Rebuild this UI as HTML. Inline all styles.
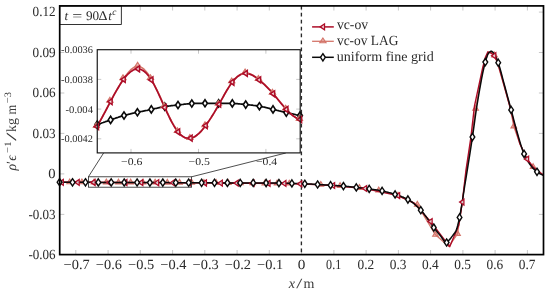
<!DOCTYPE html>
<html lang="en"><head><meta charset="utf-8"><title>plot</title>
<style>html,body{margin:0;padding:0;background:#fff}body{width:550px;height:295px;overflow:hidden}</style></head>
<body>
<svg width="550" height="295" viewBox="0 0 550 295" style="display:block">
<rect width="550" height="295" fill="#fff"/>
<g font-family="'Liberation Serif','DejaVu Serif',serif" fill="#2b2b2b" text-rendering="geometricPrecision">
<path d="M75.8,254.6 v-4.6 M75.8,5.9 v4.6 M108.1,254.6 v-4.6 M108.1,5.9 v4.6 M140.3,254.6 v-4.6 M140.3,5.9 v4.6 M172.6,254.6 v-4.6 M172.6,5.9 v4.6 M204.8,254.6 v-4.6 M204.8,5.9 v4.6 M237.1,254.6 v-4.6 M237.1,5.9 v4.6 M269.3,254.6 v-4.6 M269.3,5.9 v4.6 M301.6,254.6 v-4.6 M301.6,5.9 v4.6 M333.9,254.6 v-4.6 M333.9,5.9 v4.6 M366.1,254.6 v-4.6 M366.1,5.9 v4.6 M398.4,254.6 v-4.6 M398.4,5.9 v4.6 M430.6,254.6 v-4.6 M430.6,5.9 v4.6 M462.9,254.6 v-4.6 M462.9,5.9 v4.6 M495.1,254.6 v-4.6 M495.1,5.9 v4.6 M527.4,254.6 v-4.6 M527.4,5.9 v4.6 M59.7,12.1 h4.6 M543.5,12.1 h-4.6 M59.7,52.5 h4.6 M543.5,52.5 h-4.6 M59.7,93.0 h4.6 M543.5,93.0 h-4.6 M59.7,133.4 h4.6 M543.5,133.4 h-4.6 M59.7,173.9 h4.6 M543.5,173.9 h-4.6 M59.7,214.4 h4.6 M543.5,214.4 h-4.6" stroke="#b0b0b0" stroke-width="0.7" fill="none"/>
<path d="M301.4,5.9 V254.6" stroke="#2a2a2a" stroke-width="1.35" stroke-dasharray="3.7 3.23" fill="none"/>
<path d="M59.7,182.2 L200.0,182.8 L301.5,183.7 L320.8,184.8 L340.1,186.0 L359.4,187.9 L378.7,190.4 L398.0,195.7 L417.3,204.7 L435.5,234.8 L448.8,246.4 L457.5,233.9 L462.0,204.0 L466.5,170.0 L471.5,138.0 L475.6,108.8 L483.5,66.0 L488.5,52.3 L491.5,52.6 L494.5,55.5 L497.5,63.0 L503.5,84.0 L510.3,108.0 L513.8,126.5 L520.0,144.0 L527.0,159.0 L533.1,167.0 L543.5,175.2" stroke="#d4756a" stroke-width="1.3" fill="none" stroke-linejoin="round"/>
<path d="M289.3,180.3 L292.1,185.0 L286.5,185.0Z" fill="#d4756a" fill-opacity="0.45" stroke="#d4756a" stroke-width="1.15"/>
<path d="M277.1,180.2 L279.9,184.9 L274.3,184.9Z" fill="#d4756a" fill-opacity="0.45" stroke="#d4756a" stroke-width="1.15"/>
<path d="M264.9,180.1 L267.7,184.8 L262.1,184.8Z" fill="#d4756a" fill-opacity="0.45" stroke="#d4756a" stroke-width="1.15"/>
<path d="M252.7,180.0 L255.5,184.7 L249.9,184.7Z" fill="#d4756a" fill-opacity="0.45" stroke="#d4756a" stroke-width="1.15"/>
<path d="M240.5,179.9 L243.3,184.6 L237.7,184.6Z" fill="#d4756a" fill-opacity="0.45" stroke="#d4756a" stroke-width="1.15"/>
<path d="M228.3,179.7 L231.1,184.4 L225.5,184.4Z" fill="#d4756a" fill-opacity="0.45" stroke="#d4756a" stroke-width="1.15"/>
<path d="M216.1,179.6 L218.9,184.3 L213.3,184.3Z" fill="#d4756a" fill-opacity="0.45" stroke="#d4756a" stroke-width="1.15"/>
<path d="M203.9,179.5 L206.7,184.2 L201.1,184.2Z" fill="#d4756a" fill-opacity="0.45" stroke="#d4756a" stroke-width="1.15"/>
<path d="M191.7,179.5 L194.5,184.2 L188.9,184.2Z" fill="#d4756a" fill-opacity="0.45" stroke="#d4756a" stroke-width="1.15"/>
<path d="M179.5,179.4 L182.3,184.1 L176.7,184.1Z" fill="#d4756a" fill-opacity="0.45" stroke="#d4756a" stroke-width="1.15"/>
<path d="M167.3,179.4 L170.1,184.1 L164.5,184.1Z" fill="#d4756a" fill-opacity="0.45" stroke="#d4756a" stroke-width="1.15"/>
<path d="M155.1,179.3 L157.9,184.0 L152.3,184.0Z" fill="#d4756a" fill-opacity="0.45" stroke="#d4756a" stroke-width="1.15"/>
<path d="M142.9,179.3 L145.7,184.0 L140.1,184.0Z" fill="#d4756a" fill-opacity="0.45" stroke="#d4756a" stroke-width="1.15"/>
<path d="M130.7,179.2 L133.5,183.9 L127.9,183.9Z" fill="#d4756a" fill-opacity="0.45" stroke="#d4756a" stroke-width="1.15"/>
<path d="M118.5,179.2 L121.3,183.9 L115.7,183.9Z" fill="#d4756a" fill-opacity="0.45" stroke="#d4756a" stroke-width="1.15"/>
<path d="M106.3,179.1 L109.1,183.8 L103.5,183.8Z" fill="#d4756a" fill-opacity="0.45" stroke="#d4756a" stroke-width="1.15"/>
<path d="M94.1,179.1 L96.9,183.8 L91.3,183.8Z" fill="#d4756a" fill-opacity="0.45" stroke="#d4756a" stroke-width="1.15"/>
<path d="M81.9,179.0 L84.7,183.7 L79.1,183.7Z" fill="#d4756a" fill-opacity="0.45" stroke="#d4756a" stroke-width="1.15"/>
<path d="M69.7,179.0 L72.5,183.7 L66.9,183.7Z" fill="#d4756a" fill-opacity="0.45" stroke="#d4756a" stroke-width="1.15"/>
<path d="M320.8,181.5 L323.6,186.2 L318.0,186.2Z" fill="#d4756a" fill-opacity="0.45" stroke="#d4756a" stroke-width="1.15"/>
<path d="M340.1,182.7 L342.9,187.4 L337.3,187.4Z" fill="#d4756a" fill-opacity="0.45" stroke="#d4756a" stroke-width="1.15"/>
<path d="M359.4,184.6 L362.2,189.3 L356.6,189.3Z" fill="#d4756a" fill-opacity="0.45" stroke="#d4756a" stroke-width="1.15"/>
<path d="M378.7,187.1 L381.5,191.8 L375.9,191.8Z" fill="#d4756a" fill-opacity="0.45" stroke="#d4756a" stroke-width="1.15"/>
<path d="M398.0,192.4 L400.8,197.1 L395.2,197.1Z" fill="#d4756a" fill-opacity="0.45" stroke="#d4756a" stroke-width="1.15"/>
<path d="M417.3,201.4 L420.1,206.1 L414.5,206.1Z" fill="#d4756a" fill-opacity="0.45" stroke="#d4756a" stroke-width="1.15"/>
<path d="M435.5,231.5 L438.3,236.2 L432.7,236.2Z" fill="#d4756a" fill-opacity="0.45" stroke="#d4756a" stroke-width="1.15"/>
<path d="M457.5,230.6 L460.3,235.3 L454.7,235.3Z" fill="#d4756a" fill-opacity="0.45" stroke="#d4756a" stroke-width="1.15"/>
<path d="M475.6,105.5 L478.4,110.2 L472.8,110.2Z" fill="#d4756a" fill-opacity="0.45" stroke="#d4756a" stroke-width="1.15"/>
<path d="M494.5,52.2 L497.3,56.9 L491.7,56.9Z" fill="#d4756a" fill-opacity="0.45" stroke="#d4756a" stroke-width="1.15"/>
<path d="M513.8,123.2 L516.6,127.9 L511.0,127.9Z" fill="#d4756a" fill-opacity="0.45" stroke="#d4756a" stroke-width="1.15"/>
<path d="M533.1,163.7 L535.9,168.4 L530.3,168.4Z" fill="#d4756a" fill-opacity="0.45" stroke="#d4756a" stroke-width="1.15"/>
<path d="M59.7,182.3 L200.0,182.9 L285.5,183.5 L300.2,183.9 L333.0,185.5 L365.0,188.5 L398.0,195.6 L414.0,203.0 L430.5,221.5 L449.7,246.7 L458.9,224.7 L462.3,202.1 L466.0,170.0 L470.8,138.0 L474.5,105.8 L482.6,68.2 L485.5,57.0 L487.9,51.8 L491.0,53.0 L494.2,55.8 L497.6,62.0 L503.8,84.0 L510.3,108.0 L513.8,122.0 L520.0,144.0 L527.0,159.0 L533.0,167.0 L543.5,175.2" stroke="#ad0d28" stroke-width="1.4" fill="none" stroke-linejoin="round"/>
<path d="M59.7,182.2 L60.7,182.2 L61.7,182.2 L62.7,182.2 L63.7,182.2 L64.7,182.2 L65.7,182.2 L66.7,182.2 L67.7,182.2 L68.7,182.2 L69.7,182.2 L70.7,182.2 L71.7,182.2 L72.7,182.3 L73.7,182.3 L74.7,182.3 L75.7,182.3 L76.7,182.3 L77.7,182.3 L78.7,182.3 L79.7,182.3 L80.7,182.3 L81.7,182.3 L82.7,182.3 L83.7,182.3 L84.7,182.3 L85.7,182.3 L86.7,182.3 L87.7,182.3 L88.7,182.3 L89.7,182.3 L90.7,182.3 L91.7,182.3 L92.7,182.3 L93.7,182.3 L94.7,182.3 L95.7,182.3 L96.7,182.4 L97.7,182.4 L98.7,182.4 L99.7,182.4 L100.7,182.4 L101.7,182.4 L102.7,182.4 L103.7,182.4 L104.7,182.4 L105.7,182.4 L106.7,182.4 L107.7,182.4 L108.7,182.4 L109.7,182.4 L110.7,182.4 L111.7,182.4 L112.7,182.4 L113.7,182.4 L114.7,182.4 L115.7,182.4 L116.7,182.4 L117.7,182.4 L118.7,182.4 L119.7,182.4 L120.0,182.4 L120.7,182.5 L121.7,182.5 L122.7,182.5 L123.7,182.5 L124.7,182.5 L125.7,182.5 L126.7,182.5 L127.7,182.5 L128.7,182.5 L129.7,182.5 L130.7,182.5 L131.7,182.5 L132.7,182.5 L133.7,182.5 L134.7,182.5 L135.7,182.5 L136.7,182.5 L137.7,182.5 L138.7,182.5 L139.7,182.5 L140.7,182.5 L141.7,182.5 L142.7,182.5 L143.7,182.5 L144.7,182.5 L145.7,182.6 L146.7,182.6 L147.7,182.6 L148.7,182.6 L149.7,182.6 L150.7,182.6 L151.7,182.6 L152.7,182.6 L153.7,182.6 L154.7,182.6 L155.7,182.6 L156.7,182.6 L157.7,182.6 L158.7,182.6 L159.7,182.6 L160.7,182.6 L161.7,182.6 L162.7,182.6 L163.7,182.6 L164.7,182.6 L165.7,182.6 L166.7,182.6 L167.7,182.6 L168.7,182.6 L169.7,182.7 L170.7,182.7 L171.7,182.7 L172.7,182.7 L173.7,182.7 L174.7,182.7 L175.7,182.7 L176.7,182.7 L177.7,182.7 L178.7,182.7 L179.7,182.7 L180.7,182.7 L181.7,182.7 L182.7,182.7 L183.7,182.7 L184.7,182.7 L185.7,182.7 L186.7,182.7 L187.7,182.7 L188.7,182.7 L189.7,182.7 L190.7,182.7 L191.7,182.7 L192.7,182.7 L193.7,182.8 L194.7,182.8 L195.7,182.8 L196.7,182.8 L197.7,182.8 L198.7,182.8 L199.7,182.8 L200.0,182.8 L200.7,182.8 L201.7,182.8 L202.7,182.8 L203.7,182.8 L204.7,182.8 L205.7,182.8 L206.7,182.8 L207.7,182.8 L208.7,182.8 L209.7,182.8 L210.7,182.8 L211.7,182.8 L212.7,182.8 L213.7,182.8 L214.7,182.8 L215.7,182.8 L216.7,182.8 L217.7,182.8 L218.7,182.8 L219.7,182.8 L220.7,182.8 L221.7,182.8 L222.7,182.9 L223.7,182.9 L224.7,182.9 L225.7,182.9 L226.7,182.9 L227.7,182.9 L228.7,182.9 L229.7,182.9 L230.7,182.9 L231.7,182.9 L232.7,182.9 L233.7,182.9 L234.7,182.9 L235.7,182.9 L236.7,182.9 L237.7,182.9 L238.7,182.9 L239.7,182.9 L240.7,182.9 L241.7,182.9 L242.7,182.9 L243.7,182.9 L244.7,182.9 L245.7,182.9 L246.7,182.9 L247.7,182.9 L248.7,182.9 L249.7,182.9 L250.7,182.9 L251.7,182.9 L252.7,182.9 L253.7,182.9 L254.7,183.0 L255.7,183.0 L256.7,183.0 L257.7,183.0 L258.7,183.0 L259.7,183.0 L260.7,183.0 L261.7,183.0 L262.7,183.0 L263.7,183.0 L264.7,183.0 L265.7,183.0 L266.7,183.0 L267.7,183.0 L268.7,183.0 L269.7,183.0 L270.7,183.0 L271.7,183.0 L272.7,183.1 L273.7,183.1 L274.7,183.1 L275.7,183.1 L276.7,183.1 L277.7,183.1 L278.5,183.1 L278.7,183.1 L279.7,183.1 L280.7,183.1 L281.7,183.1 L282.7,183.2 L283.7,183.2 L284.7,183.2 L285.7,183.2 L286.7,183.3 L287.7,183.3 L288.7,183.3 L289.7,183.4 L290.7,183.4 L291.5,183.4 L291.7,183.4 L292.7,183.4 L293.7,183.5 L294.7,183.5 L295.7,183.5 L296.7,183.5 L297.7,183.5 L298.7,183.6 L299.7,183.6 L300.7,183.6 L301.7,183.7 L302.7,183.7 L303.7,183.7 L304.5,183.8 L304.7,183.8 L305.7,183.8 L306.7,183.8 L307.7,183.9 L308.7,184.0 L309.7,184.0 L310.7,184.1 L311.7,184.1 L312.7,184.2 L313.7,184.3 L314.7,184.3 L315.7,184.4 L316.7,184.4 L317.6,184.5 L317.7,184.5 L318.7,184.6 L319.7,184.6 L320.7,184.7 L321.7,184.7 L322.7,184.8 L323.7,184.8 L324.7,184.9 L325.7,184.9 L326.7,185.0 L327.7,185.0 L328.7,185.1 L329.7,185.2 L330.4,185.2 L330.7,185.2 L331.7,185.3 L332.7,185.3 L333.7,185.4 L334.7,185.5 L335.7,185.5 L336.7,185.6 L337.7,185.7 L338.7,185.8 L339.7,185.8 L340.7,185.9 L341.7,186.0 L342.7,186.1 L343.1,186.1 L343.7,186.2 L344.7,186.2 L345.7,186.3 L346.7,186.4 L347.7,186.5 L348.7,186.6 L349.7,186.7 L350.7,186.8 L351.7,186.9 L352.7,187.0 L353.7,187.1 L354.7,187.2 L355.7,187.3 L356.2,187.4 L356.7,187.5 L357.7,187.6 L358.7,187.7 L359.7,187.8 L360.7,187.9 L361.7,188.0 L362.7,188.1 L363.7,188.2 L364.7,188.4 L365.7,188.5 L366.7,188.6 L367.7,188.7 L368.7,188.9 L368.9,188.9 L369.7,189.0 L370.7,189.1 L371.7,189.3 L372.7,189.4 L373.7,189.5 L374.7,189.7 L375.7,189.8 L376.7,189.9 L377.7,190.1 L378.7,190.3 L379.7,190.4 L380.7,190.6 L381.7,190.8 L381.8,190.8 L382.7,191.0 L383.7,191.2 L384.7,191.4 L385.7,191.7 L386.7,191.9 L387.7,192.2 L388.7,192.5 L389.7,192.7 L390.7,193.0 L391.7,193.3 L392.7,193.6 L393.7,194.0 L394.7,194.3 L394.8,194.3 L395.7,194.6 L396.7,194.9 L397.7,195.2 L398.7,195.6 L399.7,195.9 L400.7,196.3 L401.7,196.7 L402.7,197.0 L403.7,197.5 L404.7,197.9 L405.7,198.4 L406.7,198.8 L407.6,199.3 L407.7,199.4 L408.7,199.9 L409.7,200.5 L410.7,201.2 L411.7,201.9 L412.7,202.7 L413.7,203.5 L414.7,204.3 L415.7,205.2 L416.7,206.1 L417.7,207.0 L418.7,208.0 L419.7,209.0 L420.5,209.8 L420.7,210.0 L421.7,211.1 L422.7,212.3 L423.7,213.5 L424.7,214.9 L425.7,216.2 L426.7,217.6 L427.7,219.1 L428.7,220.5 L429.7,222.0 L430.7,223.4 L431.7,224.8 L432.7,226.2 L433.7,227.5 L434.7,228.8 L435.7,230.0 L436.7,231.2 L437.7,232.5 L438.7,233.7 L439.7,234.8 L440.0,235.2 L440.7,236.1 L441.7,237.5 L442.7,239.0 L443.7,240.4 L444.7,241.6 L445.7,242.3 L446.5,242.5 L446.7,242.5 L447.7,241.8 L448.7,240.6 L449.5,239.6 L449.7,239.4 L450.7,238.2 L451.7,236.9 L452.7,235.6 L453.0,235.2 L453.7,234.3 L454.7,233.0 L455.7,231.4 L456.1,230.6 L456.7,229.1 L457.7,225.5 L458.7,221.3 L459.0,220.0 L459.7,216.7 L460.7,211.3 L461.7,205.4 L462.7,199.0 L463.7,192.5 L464.7,186.0 L465.5,181.0 L465.7,179.8 L466.7,173.6 L467.7,167.4 L468.7,161.2 L469.7,154.9 L470.7,148.5 L471.7,142.0 L472.3,138.0 L472.7,135.3 L473.7,128.1 L474.7,120.8 L475.7,113.7 L476.7,107.0 L476.9,105.8 L477.7,101.0 L478.7,95.0 L479.7,89.1 L480.7,83.5 L481.7,78.2 L482.7,73.2 L483.7,68.6 L484.7,64.5 L485.1,63.0 L485.7,60.8 L486.7,57.4 L487.7,54.6 L488.4,53.4 L488.7,53.0 L489.7,52.0 L490.7,51.3 L491.2,51.2 L491.7,51.3 L492.7,52.1 L493.7,53.3 L494.5,54.4 L494.7,54.7 L495.7,56.5 L496.7,58.7 L497.7,61.2 L497.8,61.5 L498.7,64.1 L499.7,67.4 L500.7,71.0 L501.7,74.8 L502.7,78.6 L503.7,82.4 L504.0,83.5 L504.7,86.0 L505.7,89.7 L506.7,93.4 L507.7,97.1 L508.7,100.8 L509.7,104.5 L510.5,107.5 L510.7,108.2 L511.7,112.0 L512.7,115.8 L513.7,119.6 L514.7,123.4 L515.7,127.1 L516.7,130.7 L517.5,133.5 L517.7,134.2 L518.7,137.6 L519.7,141.1 L520.7,144.4 L521.7,147.6 L522.7,150.5 L523.7,153.1 L524.0,153.8 L524.7,155.3 L525.7,157.4 L526.7,159.3 L527.7,161.1 L528.7,162.6 L529.7,164.1 L530.0,164.5 L530.7,165.4 L531.7,166.7 L532.7,167.9 L533.7,168.9 L534.7,169.9 L535.7,170.8 L536.7,171.6 L537.7,172.3 L538.7,172.9 L539.7,173.6 L540.7,174.1 L541.7,174.6 L542.7,175.0 L543.5,175.2" stroke="#0a0a0a" stroke-width="1.5" fill="none" stroke-linejoin="round"/>
<path d="M297.5,183.9 L301.8,181.0 L301.8,186.8Z" fill="#fff" fill-opacity="0.8" stroke="#ad0d28" stroke-width="1.3" stroke-linejoin="miter"/>
<path d="M281.6,183.5 L285.9,180.5 L285.9,186.4Z" fill="#fff" fill-opacity="0.8" stroke="#ad0d28" stroke-width="1.3" stroke-linejoin="miter"/>
<path d="M265.7,183.4 L270.0,180.4 L270.0,186.3Z" fill="#fff" fill-opacity="0.8" stroke="#ad0d28" stroke-width="1.3" stroke-linejoin="miter"/>
<path d="M249.8,183.3 L254.1,180.3 L254.1,186.2Z" fill="#fff" fill-opacity="0.8" stroke="#ad0d28" stroke-width="1.3" stroke-linejoin="miter"/>
<path d="M233.9,183.1 L238.2,180.2 L238.2,186.1Z" fill="#fff" fill-opacity="0.8" stroke="#ad0d28" stroke-width="1.3" stroke-linejoin="miter"/>
<path d="M218.0,183.0 L222.3,180.1 L222.3,186.0Z" fill="#fff" fill-opacity="0.8" stroke="#ad0d28" stroke-width="1.3" stroke-linejoin="miter"/>
<path d="M202.1,182.9 L206.4,180.0 L206.4,185.9Z" fill="#fff" fill-opacity="0.8" stroke="#ad0d28" stroke-width="1.3" stroke-linejoin="miter"/>
<path d="M186.2,182.8 L190.5,179.9 L190.5,185.8Z" fill="#fff" fill-opacity="0.8" stroke="#ad0d28" stroke-width="1.3" stroke-linejoin="miter"/>
<path d="M170.3,182.8 L174.6,179.8 L174.6,185.7Z" fill="#fff" fill-opacity="0.8" stroke="#ad0d28" stroke-width="1.3" stroke-linejoin="miter"/>
<path d="M154.4,182.7 L158.7,179.8 L158.7,185.7Z" fill="#fff" fill-opacity="0.8" stroke="#ad0d28" stroke-width="1.3" stroke-linejoin="miter"/>
<path d="M138.5,182.6 L142.8,179.7 L142.8,185.6Z" fill="#fff" fill-opacity="0.8" stroke="#ad0d28" stroke-width="1.3" stroke-linejoin="miter"/>
<path d="M122.6,182.6 L126.9,179.6 L126.9,185.5Z" fill="#fff" fill-opacity="0.8" stroke="#ad0d28" stroke-width="1.3" stroke-linejoin="miter"/>
<path d="M106.7,182.5 L111.0,179.6 L111.0,185.5Z" fill="#fff" fill-opacity="0.8" stroke="#ad0d28" stroke-width="1.3" stroke-linejoin="miter"/>
<path d="M90.8,182.4 L95.1,179.5 L95.1,185.4Z" fill="#fff" fill-opacity="0.8" stroke="#ad0d28" stroke-width="1.3" stroke-linejoin="miter"/>
<path d="M74.9,182.4 L79.2,179.4 L79.2,185.3Z" fill="#fff" fill-opacity="0.8" stroke="#ad0d28" stroke-width="1.3" stroke-linejoin="miter"/>
<path d="M59.0,182.3 L63.3,179.4 L63.3,185.3Z" fill="#fff" fill-opacity="0.8" stroke="#ad0d28" stroke-width="1.3" stroke-linejoin="miter"/>
<path d="M330.3,185.5 L334.6,182.6 L334.6,188.4Z" fill="#fff" fill-opacity="0.8" stroke="#ad0d28" stroke-width="1.3" stroke-linejoin="miter"/>
<path d="M362.3,188.5 L366.6,185.6 L366.6,191.4Z" fill="#fff" fill-opacity="0.8" stroke="#ad0d28" stroke-width="1.3" stroke-linejoin="miter"/>
<path d="M395.3,195.6 L399.6,192.7 L399.6,198.5Z" fill="#fff" fill-opacity="0.8" stroke="#ad0d28" stroke-width="1.3" stroke-linejoin="miter"/>
<path d="M427.8,221.5 L432.1,218.6 L432.1,224.4Z" fill="#fff" fill-opacity="0.8" stroke="#ad0d28" stroke-width="1.3" stroke-linejoin="miter"/>
<path d="M459.6,202.1 L463.9,199.2 L463.9,205.0Z" fill="#fff" fill-opacity="0.8" stroke="#ad0d28" stroke-width="1.3" stroke-linejoin="miter"/>
<path d="M491.5,55.8 L495.8,52.8 L495.8,58.8Z" fill="#fff" fill-opacity="0.8" stroke="#ad0d28" stroke-width="1.3" stroke-linejoin="miter"/>
<path d="M524.3,159.0 L528.6,156.1 L528.6,161.9Z" fill="#fff" fill-opacity="0.8" stroke="#ad0d28" stroke-width="1.3" stroke-linejoin="miter"/>
<path d="M59.6,178.6 L62.0,182.2 L59.6,185.8 L57.2,182.2Z" fill="#fff" stroke="#0a0a0a" stroke-width="1.4"/>
<path d="M72.5,178.7 L75.0,182.3 L72.5,185.9 L70.1,182.3Z" fill="#fff" stroke="#0a0a0a" stroke-width="1.4"/>
<path d="M85.5,178.7 L87.9,182.3 L85.5,185.9 L83.0,182.3Z" fill="#fff" stroke="#0a0a0a" stroke-width="1.4"/>
<path d="M98.3,178.8 L100.8,182.4 L98.3,186.0 L95.9,182.4Z" fill="#fff" stroke="#0a0a0a" stroke-width="1.4"/>
<path d="M111.2,178.8 L113.7,182.4 L111.2,186.0 L108.8,182.4Z" fill="#fff" stroke="#0a0a0a" stroke-width="1.4"/>
<path d="M124.2,178.9 L126.6,182.5 L124.2,186.1 L121.8,182.5Z" fill="#fff" stroke="#0a0a0a" stroke-width="1.4"/>
<path d="M137.1,178.9 L139.5,182.5 L137.1,186.1 L134.7,182.5Z" fill="#fff" stroke="#0a0a0a" stroke-width="1.4"/>
<path d="M149.9,179.0 L152.3,182.6 L149.9,186.2 L147.5,182.6Z" fill="#fff" stroke="#0a0a0a" stroke-width="1.4"/>
<path d="M162.8,179.0 L165.2,182.6 L162.8,186.2 L160.4,182.6Z" fill="#fff" stroke="#0a0a0a" stroke-width="1.4"/>
<path d="M175.8,179.1 L178.2,182.7 L175.8,186.3 L173.3,182.7Z" fill="#fff" stroke="#0a0a0a" stroke-width="1.4"/>
<path d="M188.7,179.1 L191.1,182.7 L188.7,186.3 L186.2,182.7Z" fill="#fff" stroke="#0a0a0a" stroke-width="1.4"/>
<path d="M201.6,179.2 L204.0,182.8 L201.6,186.4 L199.2,182.8Z" fill="#fff" stroke="#0a0a0a" stroke-width="1.4"/>
<path d="M214.5,179.2 L216.9,182.8 L214.5,186.4 L212.1,182.8Z" fill="#fff" stroke="#0a0a0a" stroke-width="1.4"/>
<path d="M227.4,179.3 L229.8,182.9 L227.4,186.5 L225.0,182.9Z" fill="#fff" stroke="#0a0a0a" stroke-width="1.4"/>
<path d="M240.2,179.3 L242.7,182.9 L240.2,186.5 L237.8,182.9Z" fill="#fff" stroke="#0a0a0a" stroke-width="1.4"/>
<path d="M253.2,179.3 L255.6,182.9 L253.2,186.5 L250.8,182.9Z" fill="#fff" stroke="#0a0a0a" stroke-width="1.4"/>
<path d="M266.1,179.4 L268.4,183.0 L266.1,186.6 L263.7,183.0Z" fill="#fff" stroke="#0a0a0a" stroke-width="1.4"/>
<path d="M278.9,179.5 L281.3,183.1 L278.9,186.7 L276.6,183.1Z" fill="#fff" stroke="#0a0a0a" stroke-width="1.4"/>
<path d="M291.9,179.8 L294.2,183.4 L291.9,187.0 L289.5,183.4Z" fill="#fff" stroke="#0a0a0a" stroke-width="1.4"/>
<path d="M304.8,180.2 L307.1,183.8 L304.8,187.4 L302.4,183.8Z" fill="#fff" stroke="#0a0a0a" stroke-width="1.4"/>
<path d="M317.6,180.9 L320.0,184.5 L317.6,188.1 L315.2,184.5Z" fill="#fff" stroke="#0a0a0a" stroke-width="1.4"/>
<path d="M330.6,181.6 L332.9,185.2 L330.6,188.8 L328.2,185.2Z" fill="#fff" stroke="#0a0a0a" stroke-width="1.4"/>
<path d="M343.4,182.5 L345.8,186.1 L343.4,189.7 L341.1,186.1Z" fill="#fff" stroke="#0a0a0a" stroke-width="1.4"/>
<path d="M356.3,183.8 L358.7,187.4 L356.3,191.0 L353.9,187.4Z" fill="#fff" stroke="#0a0a0a" stroke-width="1.4"/>
<path d="M369.2,185.3 L371.6,188.9 L369.2,192.5 L366.9,188.9Z" fill="#fff" stroke="#0a0a0a" stroke-width="1.4"/>
<path d="M382.1,187.3 L384.5,190.9 L382.1,194.5 L379.8,190.9Z" fill="#fff" stroke="#0a0a0a" stroke-width="1.4"/>
<path d="M395.1,190.8 L397.4,194.4 L395.1,198.0 L392.7,194.4Z" fill="#fff" stroke="#0a0a0a" stroke-width="1.4"/>
<path d="M407.9,195.9 L410.3,199.5 L407.9,203.1 L405.6,199.5Z" fill="#fff" stroke="#0a0a0a" stroke-width="1.4"/>
<path d="M420.8,206.6 L423.2,210.2 L420.8,213.8 L418.4,210.2Z" fill="#fff" stroke="#0a0a0a" stroke-width="1.4"/>
<path d="M433.8,224.0 L436.1,227.6 L433.8,231.2 L431.4,227.6Z" fill="#fff" stroke="#0a0a0a" stroke-width="1.4"/>
<path d="M446.6,238.9 L449.0,242.5 L446.6,246.1 L444.2,242.5Z" fill="#fff" stroke="#0a0a0a" stroke-width="1.4"/>
<path d="M459.6,213.8 L461.9,217.4 L459.6,221.0 L457.2,217.4Z" fill="#fff" stroke="#0a0a0a" stroke-width="1.4"/>
<path d="M472.4,133.4 L474.8,137.0 L472.4,140.6 L470.1,137.0Z" fill="#fff" stroke="#0a0a0a" stroke-width="1.4"/>
<path d="M485.3,58.5 L487.7,62.1 L485.3,65.7 L482.9,62.1Z" fill="#fff" stroke="#0a0a0a" stroke-width="1.4"/>
<path d="M498.2,59.1 L500.6,62.7 L498.2,66.3 L495.9,62.7Z" fill="#fff" stroke="#0a0a0a" stroke-width="1.4"/>
<path d="M511.1,106.3 L513.5,109.9 L511.1,113.5 L508.8,109.9Z" fill="#fff" stroke="#0a0a0a" stroke-width="1.4"/>
<path d="M524.1,150.3 L526.5,153.9 L524.1,157.5 L521.7,153.9Z" fill="#fff" stroke="#0a0a0a" stroke-width="1.4"/>
<path d="M537.0,168.2 L539.4,171.8 L537.0,175.4 L534.6,171.8Z" fill="#fff" stroke="#0a0a0a" stroke-width="1.4"/>
<rect x="88.4" y="176.8" width="103.2" height="10.4" fill="none" stroke="#222" stroke-width="0.8"/>
<path d="M88.4,176.8 L103.6,153 M191.6,176.8 L285.8,153" stroke="#222" stroke-width="0.8" fill="none"/>
<rect x="97.25" y="49.7" width="202.95" height="103.2" fill="#fff" stroke="none"/>
<clipPath id="ic"><rect x="92.25" y="49.7" width="212.95" height="103.2"/></clipPath>
<path d="M131,152.9 v-4 M131,49.7 v4 M198.5,152.9 v-4 M198.5,49.7 v4 M265.9,152.9 v-4 M265.9,49.7 v4 M97.25,79.4 h4 M300.2,79.4 h-4 M97.25,109.1 h4 M300.2,109.1 h-4 M97.25,138.8 h4 M300.2,138.8 h-4" stroke="#b0b0b0" stroke-width="0.7" fill="none"/>
<g clip-path="url(#ic)">
<path d="M97.3,124.5 L98.3,124.2 L99.3,123.8 L100.3,123.5 L101.3,123.2 L102.3,122.8 L103.3,122.5 L104.3,122.1 L105.3,121.8 L106.3,121.4 L107.3,121.1 L108.3,120.7 L109.3,120.4 L110.3,120.0 L110.6,119.9 L111.3,119.7 L112.3,119.3 L113.3,118.9 L114.3,118.6 L115.3,118.3 L116.3,117.9 L117.3,117.6 L118.3,117.3 L119.3,116.9 L120.3,116.6 L121.3,116.3 L122.3,116.0 L123.3,115.7 L124.0,115.5 L124.3,115.4 L125.3,115.1 L126.3,114.9 L127.3,114.6 L128.3,114.4 L129.3,114.1 L130.3,113.9 L131.3,113.6 L132.3,113.4 L133.3,113.2 L134.3,113.0 L135.3,112.7 L136.3,112.5 L137.3,112.3 L137.4,112.3 L138.3,112.1 L139.3,111.9 L140.3,111.7 L141.3,111.5 L142.3,111.3 L143.3,111.1 L144.3,110.9 L145.3,110.7 L146.3,110.5 L147.3,110.3 L148.3,110.0 L149.3,109.8 L150.3,109.6 L151.3,109.4 L152.3,109.2 L153.3,109.0 L154.3,108.7 L155.3,108.5 L156.3,108.3 L157.3,108.1 L158.3,107.8 L159.3,107.6 L160.3,107.4 L161.3,107.2 L162.3,107.0 L163.3,106.8 L164.3,106.7 L164.7,106.6 L165.3,106.5 L166.3,106.4 L167.3,106.2 L168.3,106.1 L169.3,106.0 L170.3,105.8 L171.3,105.7 L172.3,105.6 L173.3,105.5 L174.3,105.4 L175.3,105.3 L176.3,105.2 L177.3,105.1 L178.0,105.0 L178.3,105.0 L179.3,104.8 L180.3,104.7 L181.3,104.6 L182.3,104.5 L183.3,104.4 L184.3,104.2 L185.3,104.1 L186.3,104.0 L187.3,103.9 L188.3,103.8 L189.3,103.7 L190.3,103.6 L191.3,103.5 L191.8,103.5 L192.3,103.5 L193.3,103.4 L194.3,103.4 L195.3,103.3 L196.3,103.3 L197.3,103.3 L198.3,103.3 L199.3,103.3 L200.3,103.3 L201.3,103.3 L202.3,103.3 L203.3,103.3 L204.3,103.3 L205.0,103.3 L205.3,103.3 L206.3,103.3 L207.3,103.3 L208.3,103.3 L209.3,103.4 L210.3,103.4 L211.3,103.4 L212.3,103.4 L213.3,103.4 L214.3,103.4 L215.3,103.4 L216.3,103.4 L217.3,103.4 L218.3,103.4 L218.6,103.4 L219.3,103.4 L220.3,103.4 L221.3,103.4 L222.3,103.3 L223.3,103.3 L224.3,103.3 L225.3,103.3 L226.3,103.3 L227.3,103.3 L228.3,103.3 L229.3,103.3 L230.3,103.3 L231.3,103.4 L232.3,103.4 L233.3,103.5 L234.3,103.5 L235.3,103.6 L236.3,103.7 L237.3,103.7 L238.3,103.8 L239.3,103.9 L240.3,104.0 L241.3,104.1 L242.3,104.2 L243.3,104.4 L244.3,104.5 L245.3,104.6 L245.7,104.6 L246.3,104.7 L247.3,104.8 L248.3,104.9 L249.3,104.9 L250.3,105.0 L251.3,105.1 L252.3,105.2 L253.3,105.4 L254.3,105.5 L255.3,105.6 L256.3,105.7 L257.3,105.9 L258.3,106.0 L259.3,106.2 L259.4,106.2 L260.3,106.4 L261.3,106.6 L262.3,106.8 L263.3,107.0 L264.3,107.2 L265.3,107.4 L266.3,107.7 L267.3,107.9 L268.3,108.2 L269.3,108.4 L270.3,108.7 L271.3,109.0 L272.3,109.2 L273.0,109.4 L273.3,109.5 L274.3,109.7 L275.3,110.0 L276.3,110.2 L277.3,110.5 L278.3,110.7 L279.3,111.0 L280.3,111.2 L281.3,111.4 L282.3,111.7 L283.3,111.9 L284.3,112.1 L285.3,112.4 L286.3,112.6 L287.3,112.8 L288.3,113.0 L289.3,113.3 L290.3,113.5 L291.3,113.7 L292.3,113.9 L293.3,114.1 L294.3,114.3 L295.3,114.5 L296.3,114.8 L297.3,115.0 L298.3,115.2 L299.3,115.4 L300.0,115.5" stroke="#0a0a0a" stroke-width="1.7" fill="none"/>
<path d="M96.9,126.6 L97.9,124.8 L98.9,123.0 L99.9,121.2 L100.9,119.3 L101.9,117.5 L102.9,115.6 L103.9,113.7 L104.9,111.9 L105.9,110.0 L106.9,108.1 L107.9,106.2 L108.9,104.3 L109.9,102.4 L110.5,101.3 L110.9,100.6 L111.9,98.7 L112.9,96.9 L113.9,95.0 L114.9,93.2 L115.9,91.5 L116.9,89.7 L117.9,88.0 L118.9,86.3 L119.9,84.6 L120.9,83.0 L121.9,81.4 L122.9,79.9 L123.6,78.8 L123.9,78.4 L124.9,76.9 L125.9,75.5 L126.9,74.2 L127.9,72.9 L128.9,71.7 L129.9,70.7 L130.9,69.7 L131.9,68.8 L132.9,68.1 L133.9,67.4 L134.9,66.9 L135.9,66.6 L136.9,66.4 L137.6,66.3 L137.9,66.3 L138.9,66.4 L139.9,66.7 L140.9,67.1 L141.9,67.7 L142.9,68.4 L143.9,69.2 L144.9,70.2 L145.9,71.3 L146.9,72.5 L147.9,73.8 L148.9,75.3 L149.9,76.8 L150.9,78.4 L151.0,78.6 L151.9,80.2 L152.9,82.0 L153.9,83.8 L154.9,85.8 L155.9,87.8 L156.9,89.8 L157.9,91.9 L158.9,94.1 L159.9,96.2 L160.9,98.4 L161.9,100.6 L162.9,102.8 L163.9,105.0 L164.7,106.8 L164.9,107.2 L165.9,109.4 L166.9,111.6 L167.9,113.7 L168.9,115.8 L169.9,117.8 L170.9,119.8 L171.9,121.8 L172.9,123.6 L173.9,125.4 L174.9,127.0 L175.9,128.6 L176.9,130.1 L177.9,131.5 L178.0,131.6 L178.9,132.7 L179.9,133.8 L180.9,134.8 L181.9,135.7 L182.9,136.5 L183.9,137.1 L184.9,137.7 L185.9,138.1 L186.9,138.4 L187.9,138.6 L188.9,138.6 L189.9,138.6 L190.5,138.5 L190.9,138.4 L191.9,138.2 L192.9,137.8 L193.9,137.3 L194.9,136.7 L195.9,136.1 L196.9,135.3 L197.9,134.5 L198.9,133.6 L199.9,132.6 L200.9,131.6 L201.9,130.4 L202.9,129.3 L203.9,128.0 L204.9,126.7 L205.6,125.8 L205.9,125.4 L206.9,124.0 L207.9,122.6 L208.9,121.1 L209.9,119.6 L210.9,118.1 L211.9,116.5 L212.9,114.9 L213.9,113.2 L214.9,111.6 L215.9,109.9 L216.9,108.1 L217.9,106.4 L218.9,104.6 L219.0,104.4 L219.9,102.8 L220.9,100.9 L221.9,99.1 L222.9,97.3 L223.9,95.5 L224.9,93.7 L225.9,91.9 L226.9,90.2 L227.9,88.5 L228.9,86.9 L229.9,85.3 L230.9,83.8 L231.9,82.4 L232.3,81.9 L232.9,81.1 L233.9,79.9 L234.9,78.8 L235.9,77.8 L236.9,76.9 L237.9,76.0 L238.9,75.3 L239.9,74.7 L240.9,74.2 L241.9,73.7 L242.9,73.4 L243.9,73.2 L244.9,73.0 L245.7,73.0 L245.9,73.0 L246.9,73.1 L247.9,73.2 L248.9,73.5 L249.9,73.8 L250.9,74.2 L251.9,74.7 L252.9,75.2 L253.9,75.8 L254.9,76.4 L255.9,77.1 L256.9,77.8 L257.9,78.6 L258.9,79.4 L259.0,79.5 L259.9,80.2 L260.9,81.1 L261.9,82.0 L262.9,82.9 L263.9,83.8 L264.9,84.7 L265.9,85.7 L266.9,86.7 L267.9,87.7 L268.9,88.8 L269.9,89.8 L270.9,90.9 L271.9,92.0 L272.9,93.2 L273.0,93.3 L273.9,94.3 L274.9,95.5 L275.9,96.7 L276.9,97.9 L277.9,99.2 L278.9,100.4 L279.9,101.6 L280.9,102.8 L281.9,104.0 L282.9,105.2 L283.9,106.4 L284.9,107.5 L285.9,108.7 L286.3,109.1 L286.9,109.8 L287.9,110.8 L288.9,111.8 L289.9,112.8 L290.9,113.8 L291.9,114.7 L292.9,115.5 L293.9,116.3 L294.9,117.0 L295.9,117.6 L296.9,118.2 L297.9,118.7 L298.9,119.1 L299.9,119.5 L300.0,119.5" stroke="#d4756a" stroke-width="1.6" fill="none"/>
<path d="M96.9,126.6 L97.9,124.9 L98.9,123.2 L99.9,121.5 L100.9,119.7 L101.9,117.9 L102.9,116.0 L103.9,114.2 L104.9,112.3 L105.9,110.4 L106.9,108.5 L107.9,106.6 L108.9,104.6 L109.9,102.7 L110.5,101.6 L110.9,100.8 L111.9,99.0 L112.9,97.1 L113.9,95.2 L114.9,93.4 L115.9,91.6 L116.9,89.9 L117.9,88.2 L118.9,86.5 L119.9,84.9 L120.9,83.3 L121.9,81.8 L122.9,80.4 L123.6,79.4 L123.9,79.0 L124.9,77.7 L125.9,76.5 L126.9,75.3 L127.9,74.2 L128.9,73.3 L129.9,72.4 L130.9,71.6 L131.9,70.9 L132.9,70.3 L133.9,69.8 L134.9,69.4 L135.9,69.1 L136.9,68.9 L137.9,68.9 L138.9,69.0 L139.9,69.2 L140.9,69.5 L141.9,69.9 L142.9,70.5 L143.9,71.2 L144.9,72.0 L145.9,72.9 L146.9,74.0 L147.9,75.1 L148.9,76.4 L149.9,77.8 L150.9,79.3 L151.3,79.9 L151.9,80.9 L152.9,82.6 L153.9,84.4 L154.9,86.3 L155.9,88.3 L156.9,90.4 L157.9,92.5 L158.9,94.6 L159.9,96.8 L160.9,99.0 L161.9,101.3 L162.9,103.5 L163.9,105.7 L164.7,107.5 L164.9,107.9 L165.9,110.1 L166.9,112.3 L167.9,114.4 L168.9,116.5 L169.9,118.5 L170.9,120.5 L171.9,122.3 L172.9,124.2 L173.9,125.9 L174.9,127.5 L175.9,129.0 L176.9,130.5 L177.9,131.8 L178.0,131.9 L178.9,133.0 L179.9,134.0 L180.9,135.0 L181.9,135.8 L182.9,136.5 L183.9,137.1 L184.9,137.6 L185.9,137.9 L186.9,138.2 L187.9,138.3 L188.9,138.4 L189.9,138.3 L190.5,138.2 L190.9,138.1 L191.9,137.8 L192.9,137.5 L193.9,137.0 L194.9,136.4 L195.9,135.8 L196.9,135.0 L197.9,134.2 L198.9,133.3 L199.9,132.3 L200.9,131.3 L201.9,130.2 L202.9,129.0 L203.9,127.8 L204.9,126.5 L205.6,125.6 L205.9,125.2 L206.9,123.8 L207.9,122.4 L208.9,120.9 L209.9,119.4 L210.9,117.9 L211.9,116.3 L212.9,114.7 L213.9,113.1 L214.9,111.4 L215.9,109.7 L216.9,108.0 L217.9,106.2 L218.9,104.5 L219.0,104.3 L219.9,102.7 L220.9,100.9 L221.9,99.1 L222.9,97.3 L223.9,95.5 L224.9,93.7 L225.9,92.0 L226.9,90.3 L227.9,88.7 L228.9,87.1 L229.9,85.6 L230.9,84.1 L231.9,82.7 L232.3,82.2 L232.9,81.4 L233.9,80.3 L234.9,79.2 L235.9,78.2 L236.9,77.2 L237.9,76.4 L238.9,75.7 L239.9,75.1 L240.9,74.6 L241.9,74.1 L242.9,73.8 L243.9,73.6 L244.9,73.4 L245.7,73.4 L245.9,73.4 L246.9,73.5 L247.9,73.6 L248.9,73.9 L249.9,74.2 L250.9,74.6 L251.9,75.0 L252.9,75.6 L253.9,76.2 L254.9,76.8 L255.9,77.5 L256.9,78.2 L257.9,79.0 L258.9,79.8 L259.0,79.9 L259.9,80.6 L260.9,81.5 L261.9,82.4 L262.9,83.3 L263.9,84.2 L264.9,85.1 L265.9,86.1 L266.9,87.1 L267.9,88.1 L268.9,89.2 L269.9,90.2 L270.9,91.3 L271.9,92.4 L272.9,93.6 L273.0,93.7 L273.9,94.7 L274.9,95.9 L275.9,97.1 L276.9,98.3 L277.9,99.5 L278.9,100.7 L279.9,102.0 L280.9,103.2 L281.9,104.4 L282.9,105.5 L283.9,106.7 L284.9,107.8 L285.9,109.0 L286.3,109.4 L286.9,110.0 L287.9,111.1 L288.9,112.1 L289.9,113.1 L290.9,114.0 L291.9,114.9 L292.9,115.7 L293.9,116.4 L294.9,117.1 L295.9,117.7 L296.9,118.3 L297.9,118.8 L298.9,119.2 L299.9,119.5 L300.0,119.5" stroke="#ad0d28" stroke-width="1.7" fill="none"/>
<path d="M97.3,120.9 L99.7,124.5 L97.3,128.1 L94.9,124.5Z" fill="#fff" stroke="#0a0a0a" stroke-width="1.6"/>
<path d="M110.6,116.3 L113.0,119.9 L110.6,123.5 L108.2,119.9Z" fill="#fff" stroke="#0a0a0a" stroke-width="1.6"/>
<path d="M124.0,111.9 L126.4,115.5 L124.0,119.1 L121.6,115.5Z" fill="#fff" stroke="#0a0a0a" stroke-width="1.6"/>
<path d="M137.4,108.7 L139.8,112.3 L137.4,115.9 L135.0,112.3Z" fill="#fff" stroke="#0a0a0a" stroke-width="1.6"/>
<path d="M151.3,105.8 L153.7,109.4 L151.3,113.0 L148.9,109.4Z" fill="#fff" stroke="#0a0a0a" stroke-width="1.6"/>
<path d="M164.7,103.0 L167.1,106.6 L164.7,110.2 L162.3,106.6Z" fill="#fff" stroke="#0a0a0a" stroke-width="1.6"/>
<path d="M178.0,101.4 L180.4,105.0 L178.0,108.6 L175.6,105.0Z" fill="#fff" stroke="#0a0a0a" stroke-width="1.6"/>
<path d="M191.8,99.9 L194.2,103.5 L191.8,107.1 L189.4,103.5Z" fill="#fff" stroke="#0a0a0a" stroke-width="1.6"/>
<path d="M205.0,99.7 L207.4,103.3 L205.0,106.9 L202.6,103.3Z" fill="#fff" stroke="#0a0a0a" stroke-width="1.6"/>
<path d="M218.6,99.8 L221.0,103.4 L218.6,107.0 L216.2,103.4Z" fill="#fff" stroke="#0a0a0a" stroke-width="1.6"/>
<path d="M232.3,99.8 L234.7,103.4 L232.3,107.0 L229.9,103.4Z" fill="#fff" stroke="#0a0a0a" stroke-width="1.6"/>
<path d="M245.7,101.0 L248.1,104.6 L245.7,108.2 L243.3,104.6Z" fill="#fff" stroke="#0a0a0a" stroke-width="1.6"/>
<path d="M259.4,102.6 L261.8,106.2 L259.4,109.8 L257.0,106.2Z" fill="#fff" stroke="#0a0a0a" stroke-width="1.6"/>
<path d="M273.0,105.8 L275.4,109.4 L273.0,113.0 L270.6,109.4Z" fill="#fff" stroke="#0a0a0a" stroke-width="1.6"/>
<path d="M286.3,109.0 L288.7,112.6 L286.3,116.2 L283.9,112.6Z" fill="#fff" stroke="#0a0a0a" stroke-width="1.6"/>
<path d="M300.0,111.9 L302.4,115.5 L300.0,119.1 L297.6,115.5Z" fill="#fff" stroke="#0a0a0a" stroke-width="1.6"/>
<path d="M96.3,122.7 L99.4,127.4 L93.2,127.4Z" fill="#d4756a" fill-opacity="0.45" stroke="#d4756a" stroke-width="1.15"/>
<path d="M109.9,97.4 L113.0,102.1 L106.8,102.1Z" fill="#d4756a" fill-opacity="0.45" stroke="#d4756a" stroke-width="1.15"/>
<path d="M123.0,74.9 L126.1,79.6 L119.9,79.6Z" fill="#d4756a" fill-opacity="0.45" stroke="#d4756a" stroke-width="1.15"/>
<path d="M137.6,62.4 L140.7,67.1 L134.5,67.1Z" fill="#d4756a" fill-opacity="0.45" stroke="#d4756a" stroke-width="1.15"/>
<path d="M150.4,74.7 L153.5,79.4 L147.3,79.4Z" fill="#d4756a" fill-opacity="0.45" stroke="#d4756a" stroke-width="1.15"/>
<path d="M164.1,102.9 L167.2,107.6 L161.0,107.6Z" fill="#d4756a" fill-opacity="0.45" stroke="#d4756a" stroke-width="1.15"/>
<path d="M177.4,127.7 L180.5,132.4 L174.3,132.4Z" fill="#d4756a" fill-opacity="0.45" stroke="#d4756a" stroke-width="1.15"/>
<path d="M189.9,134.6 L193.0,139.3 L186.8,139.3Z" fill="#d4756a" fill-opacity="0.45" stroke="#d4756a" stroke-width="1.15"/>
<path d="M205.0,121.9 L208.1,126.6 L201.9,126.6Z" fill="#d4756a" fill-opacity="0.45" stroke="#d4756a" stroke-width="1.15"/>
<path d="M218.4,100.5 L221.5,105.2 L215.3,105.2Z" fill="#d4756a" fill-opacity="0.45" stroke="#d4756a" stroke-width="1.15"/>
<path d="M231.7,78.0 L234.8,82.7 L228.6,82.7Z" fill="#d4756a" fill-opacity="0.45" stroke="#d4756a" stroke-width="1.15"/>
<path d="M245.1,69.1 L248.2,73.8 L242.0,73.8Z" fill="#d4756a" fill-opacity="0.45" stroke="#d4756a" stroke-width="1.15"/>
<path d="M258.4,75.6 L261.5,80.3 L255.3,80.3Z" fill="#d4756a" fill-opacity="0.45" stroke="#d4756a" stroke-width="1.15"/>
<path d="M272.4,89.4 L275.5,94.1 L269.3,94.1Z" fill="#d4756a" fill-opacity="0.45" stroke="#d4756a" stroke-width="1.15"/>
<path d="M285.7,105.2 L288.8,109.9 L282.6,109.9Z" fill="#d4756a" fill-opacity="0.45" stroke="#d4756a" stroke-width="1.15"/>
<path d="M299.4,115.6 L302.5,120.3 L296.3,120.3Z" fill="#d4756a" fill-opacity="0.45" stroke="#d4756a" stroke-width="1.15"/>
<path d="M94.2,126.6 L98.5,123.6 L98.5,129.5Z" fill="#fff" fill-opacity="0.8" stroke="#ad0d28" stroke-width="1.5" stroke-linejoin="miter"/>
<path d="M107.8,101.6 L112.1,98.6 L112.1,104.5Z" fill="#fff" fill-opacity="0.8" stroke="#ad0d28" stroke-width="1.5" stroke-linejoin="miter"/>
<path d="M120.9,79.4 L125.2,76.5 L125.2,82.4Z" fill="#fff" fill-opacity="0.8" stroke="#ad0d28" stroke-width="1.5" stroke-linejoin="miter"/>
<path d="M135.2,68.9 L139.5,66.0 L139.5,71.9Z" fill="#fff" fill-opacity="0.8" stroke="#ad0d28" stroke-width="1.5" stroke-linejoin="miter"/>
<path d="M148.6,79.9 L152.9,77.0 L152.9,82.9Z" fill="#fff" fill-opacity="0.8" stroke="#ad0d28" stroke-width="1.5" stroke-linejoin="miter"/>
<path d="M162.0,107.5 L166.3,104.5 L166.3,110.5Z" fill="#fff" fill-opacity="0.8" stroke="#ad0d28" stroke-width="1.5" stroke-linejoin="miter"/>
<path d="M175.3,131.9 L179.6,129.0 L179.6,134.8Z" fill="#fff" fill-opacity="0.8" stroke="#ad0d28" stroke-width="1.5" stroke-linejoin="miter"/>
<path d="M187.8,138.2 L192.1,135.2 L192.1,141.1Z" fill="#fff" fill-opacity="0.8" stroke="#ad0d28" stroke-width="1.5" stroke-linejoin="miter"/>
<path d="M202.9,125.6 L207.2,122.6 L207.2,128.5Z" fill="#fff" fill-opacity="0.8" stroke="#ad0d28" stroke-width="1.5" stroke-linejoin="miter"/>
<path d="M216.3,104.3 L220.6,101.3 L220.6,107.2Z" fill="#fff" fill-opacity="0.8" stroke="#ad0d28" stroke-width="1.5" stroke-linejoin="miter"/>
<path d="M229.6,82.2 L233.9,79.2 L233.9,85.2Z" fill="#fff" fill-opacity="0.8" stroke="#ad0d28" stroke-width="1.5" stroke-linejoin="miter"/>
<path d="M243.0,73.4 L247.3,70.5 L247.3,76.4Z" fill="#fff" fill-opacity="0.8" stroke="#ad0d28" stroke-width="1.5" stroke-linejoin="miter"/>
<path d="M256.3,79.9 L260.6,77.0 L260.6,82.9Z" fill="#fff" fill-opacity="0.8" stroke="#ad0d28" stroke-width="1.5" stroke-linejoin="miter"/>
<path d="M270.3,93.7 L274.6,90.8 L274.6,96.7Z" fill="#fff" fill-opacity="0.8" stroke="#ad0d28" stroke-width="1.5" stroke-linejoin="miter"/>
<path d="M283.6,109.4 L287.9,106.5 L287.9,112.4Z" fill="#fff" fill-opacity="0.8" stroke="#ad0d28" stroke-width="1.5" stroke-linejoin="miter"/>
<path d="M297.3,119.5 L301.6,116.5 L301.6,122.5Z" fill="#fff" fill-opacity="0.8" stroke="#ad0d28" stroke-width="1.5" stroke-linejoin="miter"/>
</g>
<rect x="97.25" y="49.7" width="202.95" height="103.2" fill="none" stroke="#111" stroke-width="1.15"/>
<text x="61.05" y="53.20" font-size="10.2" textLength="31.90" lengthAdjust="spacingAndGlyphs">-0.0036</text>
<text x="61.05" y="82.90" font-size="10.2" textLength="31.90" lengthAdjust="spacingAndGlyphs">-0.0038</text>
<text x="65.55" y="112.60" font-size="10.2" textLength="27.40" lengthAdjust="spacingAndGlyphs">-0.004</text>
<text x="61.05" y="142.30" font-size="10.2" textLength="31.90" lengthAdjust="spacingAndGlyphs">-0.0042</text>
<text x="121.05" y="165.30" font-size="10.4" textLength="21.30" lengthAdjust="spacingAndGlyphs">−0.6</text>
<text x="188.55" y="165.30" font-size="10.4" textLength="21.30" lengthAdjust="spacingAndGlyphs">−0.5</text>
<text x="255.95" y="165.30" font-size="10.4" textLength="21.30" lengthAdjust="spacingAndGlyphs">−0.4</text>
<rect x="59.7" y="5.9" width="61.599999999999994" height="18.5" fill="#fff" stroke="#000" stroke-width="0.8"/>
<rect x="59.7" y="5.9" width="483.8" height="248.7" fill="none" stroke="#000" stroke-width="1.7"/>
<text y="19.8" font-size="13.1"><tspan x="64.5" font-style="italic">t</tspan><tspan> </tspan><tspan x="72.2" textLength="10" lengthAdjust="spacingAndGlyphs">=</tspan><tspan> </tspan><tspan x="85.9" textLength="13.2" lengthAdjust="spacingAndGlyphs">90</tspan><tspan x="98.6" textLength="9" lengthAdjust="spacingAndGlyphs">Δ</tspan><tspan x="108.2" font-style="italic">t</tspan><tspan x="112.2" y="15.0" font-style="italic" font-size="9.4">c</tspan></text>
<text x="32.55" y="16.30" font-size="14" textLength="23.10" lengthAdjust="spacingAndGlyphs">0.12</text>
<text x="32.55" y="56.75" font-size="14" textLength="23.10" lengthAdjust="spacingAndGlyphs">0.09</text>
<text x="32.55" y="97.20" font-size="14" textLength="23.10" lengthAdjust="spacingAndGlyphs">0.06</text>
<text x="32.55" y="137.65" font-size="14" textLength="23.10" lengthAdjust="spacingAndGlyphs">0.03</text>
<text x="48.35" y="178.10" font-size="14" textLength="7.30" lengthAdjust="spacingAndGlyphs">0</text>
<text x="28.45" y="218.55" font-size="14" textLength="27.20" lengthAdjust="spacingAndGlyphs">-0.03</text>
<text x="28.45" y="259.00" font-size="14" textLength="27.20" lengthAdjust="spacingAndGlyphs">-0.06</text>
<text x="63.58" y="268.50" font-size="14" textLength="26.10" lengthAdjust="spacingAndGlyphs">−0.7</text>
<text x="95.83" y="268.50" font-size="14" textLength="26.10" lengthAdjust="spacingAndGlyphs">−0.6</text>
<text x="128.08" y="268.50" font-size="14" textLength="26.10" lengthAdjust="spacingAndGlyphs">−0.5</text>
<text x="160.34" y="268.50" font-size="14" textLength="26.10" lengthAdjust="spacingAndGlyphs">−0.4</text>
<text x="192.59" y="268.50" font-size="14" textLength="26.10" lengthAdjust="spacingAndGlyphs">−0.3</text>
<text x="224.84" y="268.50" font-size="14" textLength="26.10" lengthAdjust="spacingAndGlyphs">−0.2</text>
<text x="257.10" y="268.50" font-size="14" textLength="26.10" lengthAdjust="spacingAndGlyphs">−0.1</text>
<text x="297.75" y="268.50" font-size="14" textLength="7.60" lengthAdjust="spacingAndGlyphs">0</text>
<text x="326.10" y="268.50" font-size="14" textLength="15.10" lengthAdjust="spacingAndGlyphs">0.1</text>
<text x="357.56" y="268.50" font-size="14" textLength="16.70" lengthAdjust="spacingAndGlyphs">0.2</text>
<text x="389.81" y="268.50" font-size="14" textLength="16.70" lengthAdjust="spacingAndGlyphs">0.3</text>
<text x="422.06" y="268.50" font-size="14" textLength="16.70" lengthAdjust="spacingAndGlyphs">0.4</text>
<text x="454.32" y="268.50" font-size="14" textLength="16.70" lengthAdjust="spacingAndGlyphs">0.5</text>
<text x="486.57" y="268.50" font-size="14" textLength="16.70" lengthAdjust="spacingAndGlyphs">0.6</text>
<text x="518.82" y="268.50" font-size="14" textLength="16.70" lengthAdjust="spacingAndGlyphs">0.7</text>
<text y="287.5" font-size="14" fill="#3a3a3a"><tspan x="288.7" font-style="italic">x</tspan><tspan x="296.3" textLength="6" lengthAdjust="spacingAndGlyphs">/</tspan><tspan x="303.4">m</tspan></text>
<text transform="translate(16.4,170.2) rotate(-90)" font-size="14" fill="#3a3a3a"><tspan x="-0.3" y="0" font-style="italic">ρ</tspan><tspan x="6.2" y="0">′</tspan><tspan x="9.4" y="0" font-style="italic">ϵ</tspan><tspan x="17.3" y="-5.6" font-size="9.8" textLength="11.4" lengthAdjust="spacingAndGlyphs">−1</tspan><tspan x="29.3" y="0" textLength="8.6" lengthAdjust="spacingAndGlyphs">/</tspan><tspan x="38.2" y="0">kg</tspan><tspan> </tspan><tspan x="55.8" y="0" textLength="9.8" lengthAdjust="spacingAndGlyphs">m</tspan><tspan x="67" y="-5.6" font-size="9.8" textLength="11.2" lengthAdjust="spacingAndGlyphs">−3</tspan></text>
<path d="M312.1,26.9 H333.8" stroke="#ad0d28" stroke-width="1.5"/>
<path d="M320.2,26.9 L324.5,23.9 L324.5,29.8Z" fill="#fff" fill-opacity="0.8" stroke="#ad0d28" stroke-width="1.3" stroke-linejoin="miter"/>
<path d="M312.1,41.3 H333.8" stroke="#d4756a" stroke-width="1.3"/>
<path d="M322.9,38.0 L326.0,42.7 L319.8,42.7Z" fill="#d4756a" fill-opacity="0.45" stroke="#d4756a" stroke-width="1.15"/>
<path d="M312.1,57.3 H333.8" stroke="#0a0a0a" stroke-width="1.5"/>
<path d="M322.9,53.7 L325.3,57.3 L322.9,60.9 L320.5,57.3Z" fill="#fff" stroke="#0a0a0a" stroke-width="1.4"/>
<text x="336.95" y="29.10" font-size="14" textLength="31.20" lengthAdjust="spacingAndGlyphs">vc-ov</text>
<text x="336.95" y="44.70" font-size="14" textLength="61.50" lengthAdjust="spacingAndGlyphs">vc-ov LAG</text>
<text x="336.75" y="60.70" font-size="14" textLength="97.00" lengthAdjust="spacingAndGlyphs">uniform fine grid</text>
</g></svg>
</body></html>
